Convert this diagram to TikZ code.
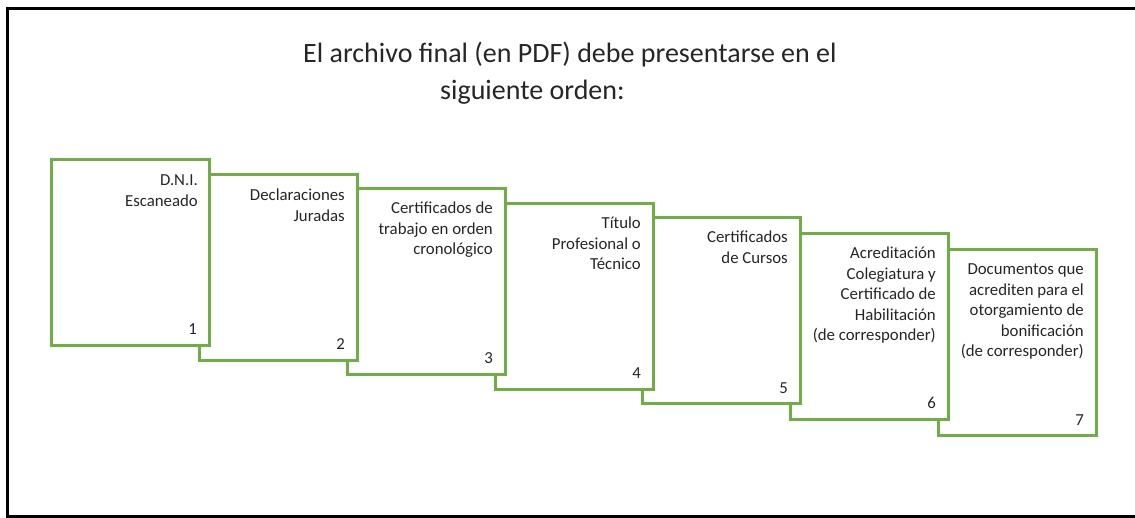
\documentclass[tikz,border=0pt]{standalone}
\usepackage{fontspec}
\setmainfont{Carlito}
\definecolor{boxgreen}{RGB}{112,173,71}
\definecolor{txt}{RGB}{38,38,38}
\tikzset{
  docbox/.style={draw=boxgreen, line width=3pt, fill=white, rectangle, anchor=north west, minimum width=158pt, minimum height=186pt, inner sep=0pt},
  doctext/.style={anchor=north east, align=right, inner sep=0pt, text=txt, font=\fontsize{16.8}{20.5}\selectfont},
  docnum/.style={anchor=base east, inner sep=0pt, text=txt, font=\fontsize{16.8}{20.5}\selectfont},
  titletext/.style={anchor=base west, inner sep=0pt, text=txt, font=\fontsize{28}{34}\selectfont}
}
\begin{document}
\begin{tikzpicture}[x=1pt,y=-1pt]
\useasboundingbox[fill=white] (0,0) rectangle (1135,518);
\draw[line width=3pt, black] (1135,9) -- (7,9) -- (7,516) -- (1135,516);
\node[titletext] (title1) at (303,63) {El archivo final (en PDF) debe presentarse en el};
\node[titletext] (title2) at (440,100) {siguiente orden:};
% boxes, back to front
\node[docbox] (b7) at (937,248) {};
\node[docbox] (b6) at (789,232) {};
\node[docbox] (b5) at (641,216) {};
\node[docbox] (b4) at (494,202) {};
\node[docbox] (b3) at (346,187) {};
\node[docbox] (b2) at (198,173) {};
\node[docbox] (b1) at (50,158) {};
% texts
\node[doctext] (t1) at ([xshift=-13pt,yshift=-13pt]b1.north east) {\strut D.N.I.\\Escaneado};
\node[doctext] (t2) at ([xshift=-14pt,yshift=-13pt]b2.north east) {\strut Declaraciones\\Juradas};
\node[doctext] (t3) at ([xshift=-14pt,yshift=-12pt]b3.north east) {\strut Certificados de\\trabajo en orden\\cronológico};
\node[doctext] (t4) at ([xshift=-14pt,yshift=-12pt]b4.north east) {\strut Título\\Profesional o\\Técnico};
\node[doctext] (t5) at ([xshift=-14pt,yshift=-12pt]b5.north east) {\strut Certificados\\de Cursos};
\node[doctext] (t6) at ([xshift=-14pt,yshift=-12pt]b6.north east) {\strut Acreditación\\Colegiatura y\\Certificado de\\Habilitación\\(de corresponder)};
\node[doctext] (t7) at ([xshift=-14pt,yshift=-12pt]b7.north east) {\strut Documentos que\\acrediten para el\\otorgamiento de\\bonificación\\(de corresponder)};
% numbers
\foreach \i in {1,...,7} {
  \node[docnum] (n\i) at ([xshift=-14pt,yshift=12pt]b\i.south east) {\i};
}
\end{tikzpicture}
\end{document}
